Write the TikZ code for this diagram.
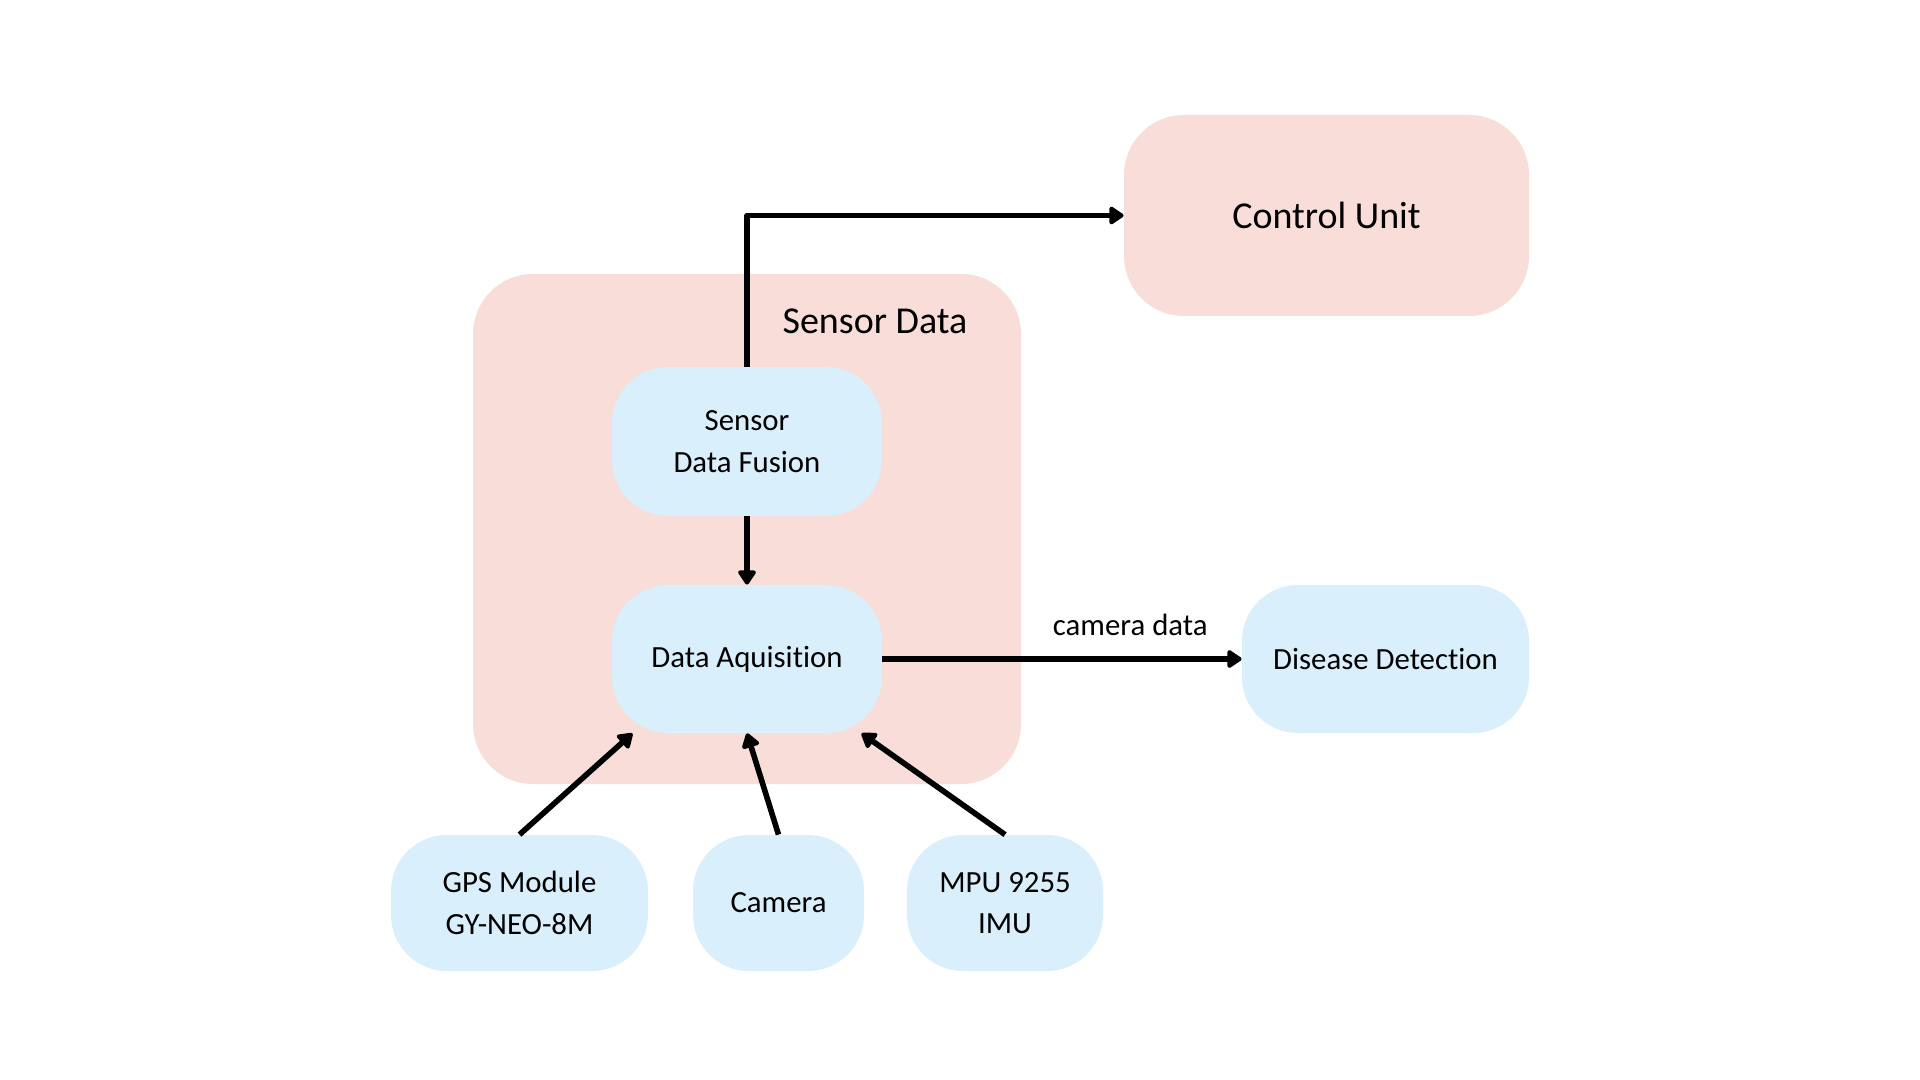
\documentclass[tikz,border=0pt]{standalone}
\usepackage{fontspec}
\setmainfont{Carlito}[Ligatures=NoCommon]
\usetikzlibrary{arrows.meta}
\definecolor{pinkbg}{HTML}{F8DDD8}
\definecolor{bluebg}{HTML}{D9EFFC}
\begin{document}
\begin{tikzpicture}[x=0.5pt,y=-0.5pt,
  txt/.style={font=\fontsize{15.4}{20.8}\selectfont},
  bigtxt/.style={font=\fontsize{19}{24}\selectfont},
  bluebox/.style={fill=bluebg, rounded corners=28pt, align=center, inner sep=0pt, txt},
  pinkbox/.style={fill=pinkbg, rounded corners=30pt, align=center, inner sep=0pt},
  arr/.style={line width=2.8pt, -{Triangle[length=8pt,width=10pt,round]}, line join=round}]
\useasboundingbox (0,0) rectangle (1920,1080);
\fill[white] (0,0) rectangle (1920,1080);
% containers
\node[pinkbox, minimum width=274pt, minimum height=255pt] (sensordata) at (747,529) {};
\node[bigtxt] (sdtitle) at (875,321) {Sensor Data};
\node[pinkbox, bigtxt, minimum width=202.5pt, minimum height=100.5pt] (control) at (1326.5,215.5) {Control Unit};
% blue boxes
\node[bluebox, minimum width=135pt, minimum height=74.5pt] (sdf) at (747,441.5) {Sensor\\Data Fusion};
\node[bluebox, minimum width=135pt, minimum height=74pt] (da) at (747,659) {Data Aquisition};
\node[bluebox, minimum width=143.5pt, minimum height=74pt] (dd) at (1385.5,659) {Disease Detection};
\node[bluebox, minimum width=128.5pt, minimum height=68pt] (gps) at (519.5,903) {GPS Module\\GY-NEO-8M};
\node[bluebox, minimum width=85.5pt, minimum height=68pt] (cam) at (778.5,903) {Camera};
\node[bluebox, minimum width=98pt, minimum height=68pt] (mpu) at (1005,903) {MPU 9255\\IMU};
% connectors
\draw[arr] (sdf.north) |- (control.west);
\draw[arr] (sdf.south) -- (da.north);
\draw[arr] (da.east) -- node[pos=0.69, yshift=17pt, txt] (camlabel) {camera data} (dd.west);
\draw[arr] (gps.north) -- (da.-147);
\draw[arr] (cam.north) -- (da.south);
\draw[arr] (mpu.north) -- (da.-33);
\end{tikzpicture}
\end{document}
